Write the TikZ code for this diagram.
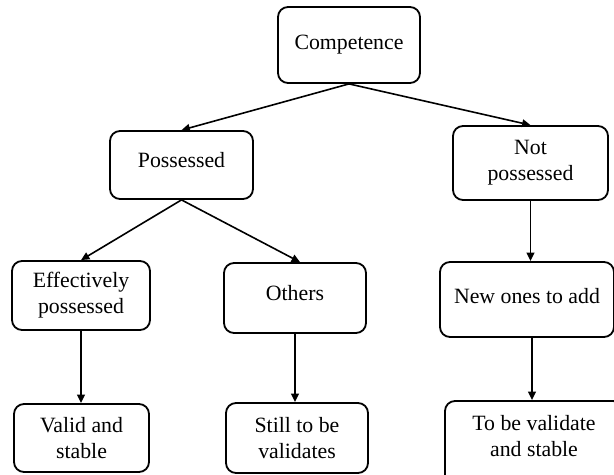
\documentclass[tikz,border=0pt]{standalone}
\usepackage{fontspec}
\setmainfont{Liberation Serif}
\usepackage{tikz}
\usetikzlibrary{arrows.meta,positioning}

\begin{document}
\begin{tikzpicture}[
  x=0.5pt,y=-0.5pt,
  every node/.style={font=\fontsize{10.9}{13}\selectfont,align=center},
  box/.style={draw=black,line width=0.9pt,rounded corners=5pt,inner sep=2pt,minimum width=71pt,minimum height=35pt},
  lift/.style={text depth=#1},
  arr/.style={-{Triangle[length=4.2pt,width=3.8pt]},line width=0.8pt}
]
\useasboundingbox (0,0) rectangle (614,475);
\node[box,minimum height=38pt] (comp) at (349,45) {Competence};
\node[box,lift=5pt,minimum width=71.5pt,minimum height=34pt] (poss) at (181.5,165) {Possessed};
\node[box,minimum width=77.5pt,minimum height=37pt] (notp) at (530.5,163) {Not\\possessed};
\node[box,minimum width=69pt,minimum height=34.5pt] (eff) at (81,295.5) {Effectively\\possessed};
\node[box,lift=5pt] (oth) at (295,298) {Others};
\node[box,lift=4pt,minimum width=87pt,minimum height=37.5pt] (newo) at (527,299.5) {New ones to add};
\node[box,minimum width=67.5pt,minimum height=34pt] (valid) at (81.5,438) {Valid and\\stable};
\node[box] (still) at (297,438) {Still to be\\validates};
\node[box,lift=7pt,minimum width=89pt,minimum height=42pt] (tobe) at (534,443) {To be validate\\and stable};
\draw[arr] (comp.south) -- (poss.north);
\draw[arr] (comp.south) -- (notp.north);
\draw[arr] (poss.south) -- (eff.north);
\draw[arr] (poss.south) -- ([xshift=2.5pt]oth.north);
\draw[arr] (notp.south) -- (notp.south |- newo.north);
\draw[arr] (eff.south) -- (eff.south |- valid.north);
\draw[arr] (oth.south) -- (oth.south |- still.north);
\draw[arr] ([xshift=-1pt]tobe.north |- newo.south) -- ([xshift=-1pt]tobe.north);
\end{tikzpicture}
\end{document}
